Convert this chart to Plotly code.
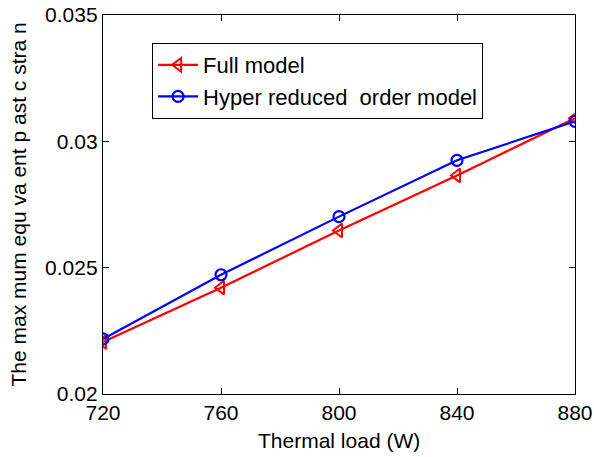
import plotly.graph_objects as go

thermal_load = [720, 760, 800, 840, 880]
full_model = [0.02206, 0.02421, 0.02647, 0.02865, 0.03091]
hyper_reduced = [0.02218, 0.02472, 0.02702, 0.02925, 0.03079]
x_ticks = [720, 760, 800, 840, 880]
y_ticks = [0.02, 0.025, 0.03, 0.035]
y_tick_labels = ["0.02", "0.025", "0.03", "0.035"]
x_title = "Thermal load (W)"
y_title = "The max mum equ va ent p ast c stra n"

FONT = "Liberation Sans, Arial, Helvetica, sans-serif"

fig = go.Figure()
fig.add_trace(go.Scatter(
    x=thermal_load, y=full_model, mode="lines+markers", name="Full model",
    line=dict(color="#ff0000", width=2.2),
    marker=dict(symbol="triangle-left-open", size=12, color="#ff0000", line=dict(width=2)),
))
fig.add_trace(go.Scatter(
    x=thermal_load, y=hyper_reduced, mode="lines+markers", name="Hyper reduced  order model",
    line=dict(color="#0000ff", width=2.2),
    marker=dict(symbol="circle-open", size=11, color="#0000ff", line=dict(width=2.2)),
))

axis_common = dict(
    showline=True, linecolor="black", linewidth=1.3, mirror="ticks",
    ticks="inside", ticklen=6, tickcolor="black", tickwidth=1, showgrid=False, zeroline=False,
    automargin=False,
    tickfont=dict(family=FONT, size=21, color="black"),
)
fig.update_xaxes(range=[720, 880], tickvals=x_ticks, **axis_common)
fig.update_yaxes(range=[0.02, 0.035], tickvals=y_ticks, ticktext=y_tick_labels, **axis_common)

fig.update_layout(
    width=594, height=457,
    margin=dict(l=103, r=19, t=15, b=63),
    plot_bgcolor="white", paper_bgcolor="white",
    legend=dict(x=0.104, y=0.926, xanchor="left", yanchor="top",
                bordercolor="black", borderwidth=1, bgcolor="white",
                font=dict(family=FONT, size=22, color="black"),
                tracegroupgap=0, itemwidth=40),
    showlegend=True,
    annotations=[
        dict(text=x_title, xref="paper", yref="paper", x=0.5, y=-0.124,
             xanchor="center", yanchor="middle", showarrow=False,
             font=dict(family=FONT, size=21, color="black")),
        dict(text=y_title, xref="paper", yref="paper", x=-0.178, y=0.5,
             xanchor="center", yanchor="middle", showarrow=False, textangle=-90,
             font=dict(family=FONT, size=21, color="black")),
    ],
)

fig.write_html("out.html", config={"displayModeBar": False},
               post_script="document.body.style.margin='0';document.body.style.padding='0';")
